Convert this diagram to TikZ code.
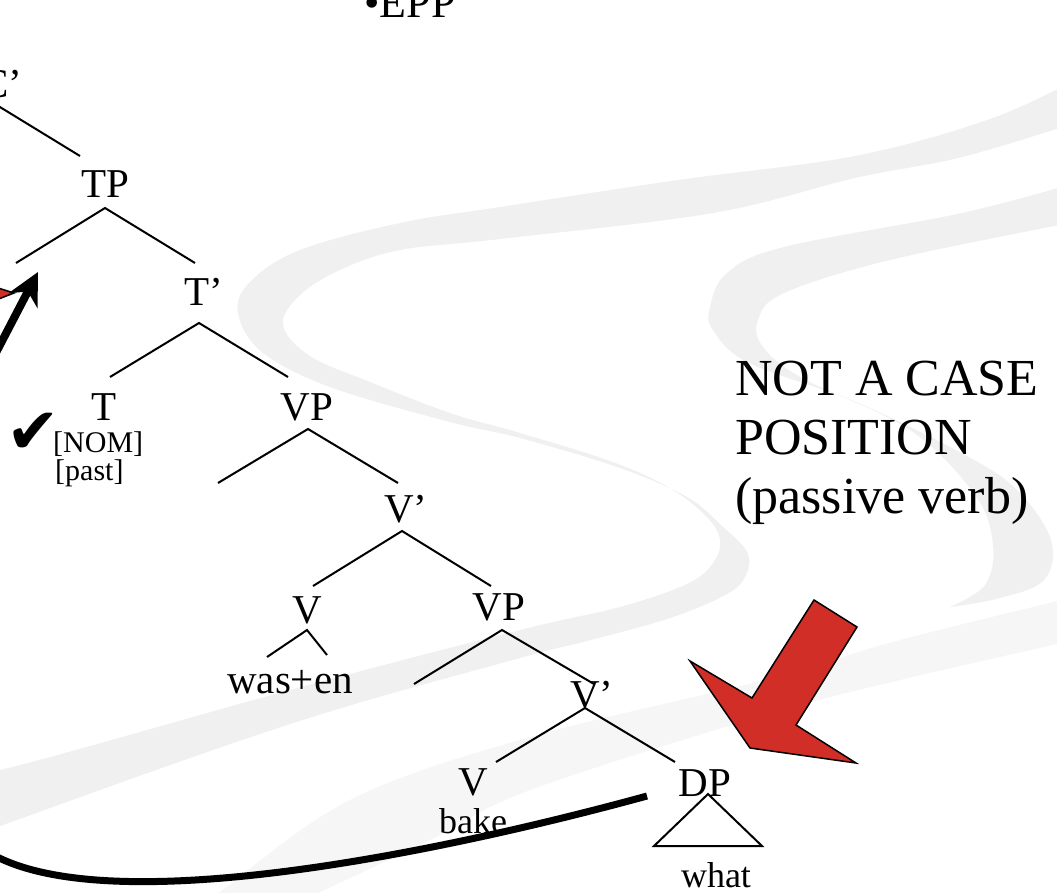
\documentclass[tikz,border=0pt]{standalone}
\usepackage{fontspec}
\setmainfont{Liberation Serif}
\newfontfamily\symfont{DejaVu Sans}
\usepackage{tikz}
\usetikzlibrary{arrows.meta}
\definecolor{swoosh}{gray}{0.94}
\definecolor{swooshlight}{gray}{0.965}
\definecolor{arrowred}{RGB}{208,46,38}

\begin{document}
\begin{tikzpicture}[x=1pt,y=-1pt,
lbl/.style={anchor=base,inner sep=0pt,font=\fontsize{41}{41}\selectfont},
leaf/.style={anchor=base,inner sep=0pt,font=\fontsize{36}{36}\selectfont},
feat/.style={anchor=base west,inner sep=0pt,font=\fontsize{30}{30}\selectfont},
branch/.style={line width=2pt},
bigarrow/.style={fill=arrowred,draw=black,line width=1.5pt,line join=miter}]
\useasboundingbox (0,0) rectangle (1057,892);
\clip (0,0) rectangle (1057,892);
\fill[white] (0,0) rectangle (1057,892);
% background swooshes
\fill[swoosh] plot[smooth,tension=0.6] coordinates {(1075,80) (990,119) (855,156) (678,180) (500,207) (400,223) (300,250) (250,282) (238,313) (262,352) (330,387) (450,422) (520,438) (620,468) (687,497) (722,526) (747,552) (746,575) (727,594) (670,618) (587,641) (520,658) (290,724) (0,826) (-30,838)}
  -- plot[smooth,tension=0.6] coordinates {(-30,764) (0,770) (290,690) (520,630) (620,607) (687,584) (713,563) (720,540) (706,516) (668,487) (610,461) (520,433) (450,413) (370,382) (310,356) (283,325) (300,295) (340,270) (400,250) (500,239) (713,213) (855,178) (962,157) (1075,123)} -- cycle;
\fill[swoosh] plot[smooth,tension=0.6] coordinates {(1075,183) (962,213) (784,247) (727,273) (710,307) (713,330) (749,363) (856,402) (965,455) (1017,490) (1051,540) (1044,580) (1000,598) (950,607)}
  -- plot[smooth,tension=0.6] coordinates {(950,607) (985,585) (993,545) (975,495) (910,430) (802,378) (763,347) (758,320) (784,293) (890,260) (1075,222)} -- cycle;
\fill[swooshlight] plot[smooth,tension=0.6] coordinates {(1075,597) (900,640) (765,680) (530,737) (350,800) (220,892) (200,905)}
  -- plot[smooth,tension=0.6] coordinates {(290,905) (320,892) (430,840) (530,790) (765,715) (900,680) (1075,640)} -- cycle;

% tree labels
\node[lbl,font=\fontsize{44}{44}\selectfont] (epp) at (410,17) {•EPP};
\node[lbl] (Cbar) at (2,97) {C’};
\node[lbl] (TP) at (105,197) {TP};
\node[lbl] (Tbar) at (204,305) {T’};
\node[lbl] (T) at (104,420) {T};
\node[feat] (nom) at (53,452) {[NOM]};
\node[feat] (past) at (55,480) {[past]};
\node[inner sep=0pt,font=\symfont\fontsize{64}{64}\selectfont] (check) at (33,433) {✔};
\node[lbl] (VPa) at (307,420) {VP};
\node[lbl] (Vbara) at (406,522) {V’};
\node[lbl] (Va) at (307,623) {V};
\node[lbl] (wasen) at (290,693) {was+en};
\node[lbl] (VPb) at (499,620) {VP};
\node[lbl] (Vbarb) at (592,708) {V’};
\node[lbl] (Vb) at (473,795) {V};
\node[leaf] (bake) at (473,833) {bake};
\node[lbl] (DP) at (705,796) {DP};
\node[leaf] (what) at (716,887) {what};
\node[anchor=base west,inner sep=0pt,align=left,font=\fontsize{52}{59}\selectfont] (note) at (735,513) {NOT A CASE\\POSITION\\(passive verb)};

% branch points
\coordinate (c-a) at (-5,104);  \coordinate (c-r) at (80,156);
\coordinate (tp-a) at (105,208); \coordinate (tp-l) at (16,263); \coordinate (tp-r) at (195,263);
\coordinate (tb-a) at (199,323); \coordinate (tb-l) at (110,377); \coordinate (tb-r) at (288,377);
\coordinate (vpa-a) at (308,429); \coordinate (vpa-l) at (218,483); \coordinate (vpa-r) at (398,483);
\coordinate (vba-a) at (402,531); \coordinate (vba-l) at (313,586); \coordinate (vba-r) at (491,586);
\coordinate (va-a) at (307,630); \coordinate (va-l) at (267,657); \coordinate (va-r) at (327,655);
\coordinate (vpb-a) at (502,630); \coordinate (vpb-l) at (414,684); \coordinate (vpb-r) at (594,684);
\coordinate (vbb-a) at (585,708); \coordinate (vbb-l) at (496,762); \coordinate (vbb-r) at (675,762);
\coordinate (dp-a) at (708,794); \coordinate (dp-l) at (654,846); \coordinate (dp-r) at (762,846);

\draw[branch] (c-a) -- (c-r);
\draw[branch] (tp-l) -- (tp-a) -- (tp-r);
\draw[branch] (tb-l) -- (tb-a) -- (tb-r);
\draw[branch] (vpa-l) -- (vpa-a) -- (vpa-r);
\draw[branch] (vba-l) -- (vba-a) -- (vba-r);
\draw[branch] (va-l) -- (va-a) -- (va-r);
\draw[branch] (vpb-l) -- (vpb-a) -- (vpb-r);
\draw[branch] (vbb-l) -- (vbb-a) -- (vbb-r);
\draw[branch,line join=miter] (dp-a) -- (dp-l) -- (dp-r) -- cycle;

% arrows
\filldraw[bigarrow] (-40,276) -- (14,293) -- (-40,314) -- cycle;
\coordinate (mv-tail) at (-12,368); \coordinate (mv-tip) at (38,272);
\draw[line width=8pt,-{Stealth[length=32pt,width=32pt,inset=10pt]}] (mv-tail) -- (mv-tip);
\filldraw[bigarrow] (814,600) -- (857,627) -- (796,725) -- (856,763) -- (750,748) -- (690,661) -- (752,698) -- cycle;
\coordinate (trace-start) at (647,796); \coordinate (trace-end) at (-15,850);
\draw[line width=7pt] (trace-start) .. controls (450,850) and (100,925) .. (trace-end);
\end{tikzpicture}
\end{document}
